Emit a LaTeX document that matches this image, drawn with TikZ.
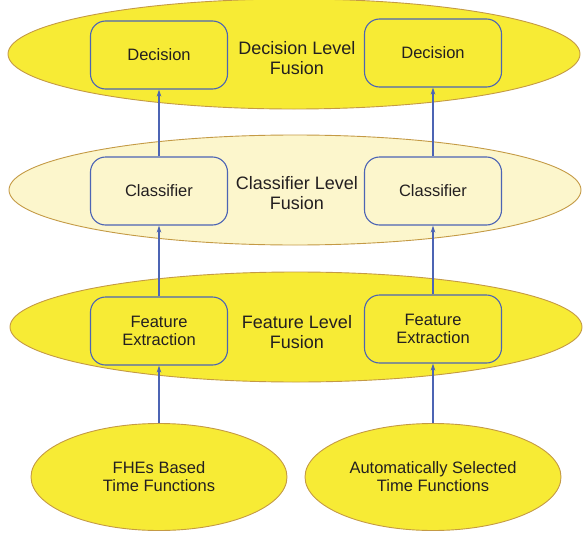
\documentclass[tikz,border=0pt]{standalone}
\usepackage{fontspec}
\setmainfont{Liberation Sans}
\usetikzlibrary{shapes.geometric,arrows.meta}
\definecolor{fuseyellow}{HTML}{F7EB35}
\definecolor{paleyellow}{HTML}{FCF6CC}
\definecolor{rimbrown}{HTML}{C49A45}
\definecolor{boxblue}{HTML}{4C64B4}
\definecolor{inkgray}{HTML}{231F20}

\begin{document}
\begin{tikzpicture}[x=1pt,y=-1pt,
    every node/.style={font=\fontsize{16.5}{18}\selectfont, text=inkgray, align=center},
    levelname/.style={font=\fontsize{18}{20}\selectfont},
    level/.style={ellipse, draw=rimbrown, line width=0.9pt, fill=#1,
      minimum width=572pt, minimum height=110pt, inner sep=0pt},
    source/.style={ellipse, draw=rimbrown, line width=0.9pt, fill=fuseyellow,
      minimum width=256pt, minimum height=107pt, inner sep=0pt},
    unit/.style={draw=boxblue, line width=1.1pt, rounded corners=15pt, fill=#1,
      minimum width=137pt, minimum height=68pt, inner sep=0pt},
    link/.style={draw=boxblue, line width=1.1pt, -{Stealth[length=7pt,width=4.5pt]}}]
  \useasboundingbox (0,0) rectangle (584,533);

  % fusion levels
  \node[level=fuseyellow] (decfuse)  at (294,54)  {};
  \node[level=paleyellow] (clsfuse)  at (295,190) {};
  \node[level=fuseyellow] (featfuse) at (296,327) {};
  \node[levelname] (decname)  at (297,58)  {Decision Level\\Fusion};
  \node[levelname] (clsname)  at (297,193) {Classifier Level\\Fusion};
  \node[levelname] (featname) at (297,332) {Feature Level\\Fusion};

  % units
  \node[unit=fuseyellow] (decL)  at (159,55)  {Decision};
  \node[unit=fuseyellow] (decR)  at (433,53)  {Decision};
  \node[unit=paleyellow] (clsL)  at (159,191) {Classifier};
  \node[unit=paleyellow] (clsR)  at (433,191) {Classifier};
  \node[unit=fuseyellow] (featL) at (159,331) {Feature\\Extraction};
  \node[unit=fuseyellow] (featR) at (433,329) {Feature\\Extraction};

  % sources
  \node[source] (fhe)  at (159,477) {FHEs Based\\Time Functions};
  \node[source] (auto) at (433,477) {Automatically Selected\\Time Functions};

  \draw[link] (fhe)   -- (featL);
  \draw[link] (auto)  -- (featR);
  \draw[link] (featL) -- (clsL);
  \draw[link] (featR) -- (clsR);
  \draw[link] (clsL)  -- (decL);
  \draw[link] (clsR)  -- (decR);
\end{tikzpicture}
\end{document}
